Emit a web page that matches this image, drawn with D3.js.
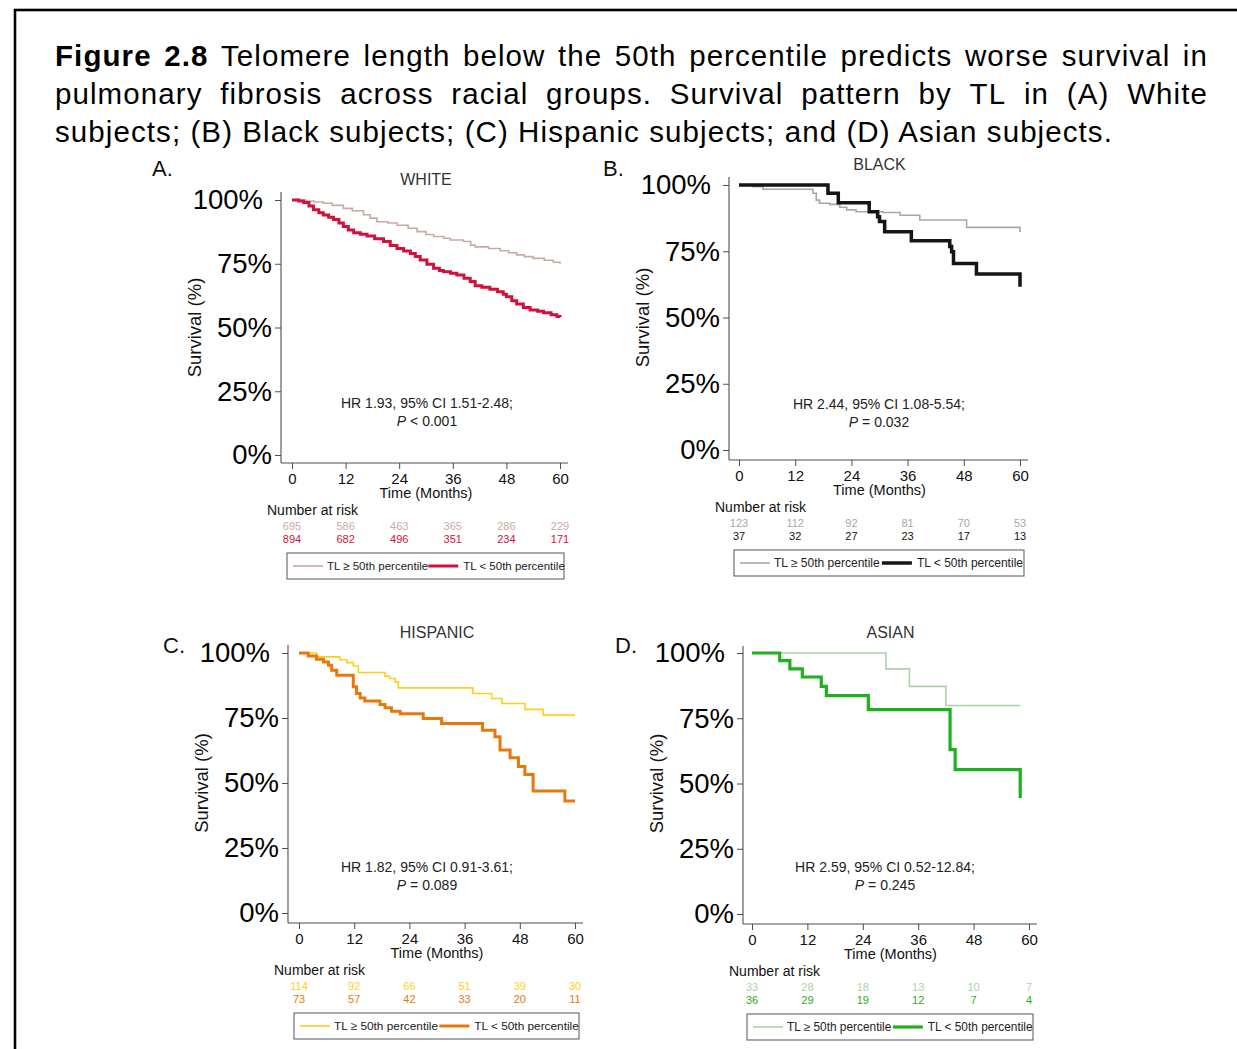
<!DOCTYPE html>
<html>
<head>
<meta charset="utf-8">
<script src="https://cdn.jsdelivr.net/npm/d3@7"></script>
<style>
  body { margin: 0; background: #fff; }
  svg { display: block; }
  text { font-family: "Liberation Sans", Arial, Helvetica, sans-serif; }
</style>
</head>
<body>
<svg id="fig" width="1237" height="1049"></svg>
<script>
// ---- Shared axis ticks and labels ----
const timeTicks = [0, 12, 24, 36, 48, 60];
const survivalTicks = [0, 25, 50, 75, 100];
const groupTitles = ["WHITE", "BLACK", "HISPANIC", "ASIAN"];
const panelLetters = ["A.", "B.", "C.", "D."];
const legendLabels = ["TL \u2265 50th percentile", "TL < 50th percentile"];
const hrText = [
  "HR 1.93, 95% CI 1.51-2.48;",
  "HR 2.44, 95% CI 1.08-5.54;",
  "HR 1.82, 95% CI 0.91-3.61;",
  "HR 2.59, 95% CI 0.52-12.84;"
];
const pText = ["< 0.001", "= 0.032", "= 0.089", "= 0.245"];

const captionLines = [
  "Figure 2.8 Telomere length below the 50th percentile predicts worse survival in",
  "pulmonary fibrosis across racial groups. Survival pattern by TL in (A) White",
  "subjects; (B) Black subjects; (C) Hispanic subjects; and (D) Asian subjects."
];

// ---- Kaplan-Meier survival estimates: [month, survival %] ----
const whiteHigh = [[0,100],[3,99.6],[5,99.2],[7,98.7],[9,97.9],[11.5,96.7],[13.5,95.8],[16,94.2],[17.5,92.9],[19,91.5],[21.5,91.0],[23.5,90.1],[26,88.9],[28,87.6],[30,86.5],[31.7,85.7],[34,85.0],[35.4,84.3],[38.4,83.7],[40,82.3],[41,81.6],[44,81.0],[46.6,80.1],[48.5,79.3],[50.3,78.5],[52,77.8],[54,77.1],[56.5,76.4],[58.5,75.6],[60,75.0]];
const whiteLow = [[0,100],[1.5,99.6],[2.6,99.0],[3.8,97.6],[4.8,96.2],[6,95.0],[7,94.1],[8.2,93.2],[9.3,92.4],[10.5,91.0],[11.5,89.6],[12.6,88.2],[13.8,87.2],[15.3,86.6],[16.8,85.9],[18.5,84.8],[20.5,83.7],[22,82.2],[23.5,81.0],[25,80.0],[26.5,79.0],[27.6,77.8],[28.7,76.5],[30.2,74.8],[31.7,73.2],[33,72.4],[33.9,71.9],[35.5,71.3],[36.9,70.6],[38.5,69.3],[39.9,68.0],[41,66.4],[42.5,65.8],[44.3,65.0],[46,64.0],[47.3,63.0],[48,62.1],[49.2,60.5],[50.3,59.2],[51.8,57.8],[53.3,56.9],[55,56.4],[56.3,55.8],[58,55.0],[59.3,54.3],[60,54.0]];

const blackHigh = [[0,100],[3,99.4],[5.1,98.4],[15.8,96.9],[16.5,94.3],[17.2,93.1],[19.4,92.7],[21.5,91.6],[23,90.6],[25,89.9],[30.8,89.6],[34.4,88.6],[38.6,86.8],[48.6,84.0],[60,82.3]];
const blackLow = [[0,100],[19,96.9],[21.2,93.3],[27.8,89.9],[29.6,88.0],[30,86.2],[31.1,82.4],[36.8,79.0],[45,76.8],[45.4,74.8],[45.8,70.4],[50.7,66.4],[60,61.6]];

const hispanicHigh = [[0,100],[3.8,98.5],[8.9,97.4],[10.4,96.3],[11.8,95.0],[12.9,92.5],[18.7,91.0],[19.8,90.2],[20.9,88.9],[21.6,86.6],[37.8,84.4],[41.9,82.5],[44.1,80.6],[49.1,78.3],[53.1,76.1],[60,76.1]];
const hispanicLow = [[0,100],[2,98.8],[3.8,97.6],[5.3,96.5],[6.4,95.3],[7.1,93.4],[8.2,91.4],[11.8,87.0],[12.5,84.4],[13.3,82.7],[14.3,81.5],[17.6,80.2],[18.7,78.9],[20.1,77.6],[22,76.6],[27,74.8],[31,72.9],[39.9,70.3],[42.6,67.8],[43.7,62.7],[45.9,59.7],[47.7,56.3],[49.1,53.3],[50.9,46.9],[57.8,43.1],[60,43.1]];

const asianHigh = [[0,100],[29,93.9],[34.1,87.2],[42,79.9],[58.1,79.9]];
const asianLow = [[0,100],[6,97.1],[8.2,93.9],[10.9,90.8],[15,87.2],[16.1,83.7],[25.2,78.3],[42.9,63.0],[44,55.3],[58.1,44.4]];

// ---- Numbers at risk at each time tick ----
const whiteRiskHigh = [695, 586, 463, 365, 286, 229];
const whiteRiskLow = [894, 682, 496, 351, 234, 171];
const blackRiskHigh = [123, 112, 92, 81, 70, 53];
const blackRiskLow = [37, 32, 27, 23, 17, 13];
const hispanicRiskHigh = [114, 92, 66, 51, 39, 30];
const hispanicRiskLow = [73, 57, 42, 33, 20, 11];
const asianRiskHigh = [33, 28, 18, 13, 10, 7];
const asianRiskLow = [36, 29, 19, 12, 7, 4];

// ---- Panel geometry and styling ----
const panels = [
  { high: whiteHigh, low: whiteLow, riskHigh: whiteRiskHigh, riskLow: whiteRiskLow,
    axisX: 281, x0: 292, x60: 560, y0: 455, y100: 200, axisTop: 192, axisBottom: 463, axisRight: 568,
    letter: [152, 176], hr: [427, 408],
    colHigh: "#c9a9a4", colLow: "#d2103c", wHigh: 1.6, wLow: 3 },
  { high: blackHigh, low: blackLow, riskHigh: blackRiskHigh, riskLow: blackRiskLow,
    axisX: 729, x0: 739, x60: 1020, y0: 450, y100: 185, axisTop: 177, axisBottom: 460, axisRight: 1028,
    letter: [603, 176], hr: [879, 409],
    colHigh: "#a7a7a7", colLow: "#151515", wHigh: 1.6, wLow: 3.5 },
  { high: hispanicHigh, low: hispanicLow, riskHigh: hispanicRiskHigh, riskLow: hispanicRiskLow,
    axisX: 288, x0: 299, x60: 575, y0: 913, y100: 653, axisTop: 645, axisBottom: 923, axisRight: 583,
    letter: [163, 653], hr: [427, 872],
    colHigh: "#ffcf1a", colLow: "#e8780c", wHigh: 1.6, wLow: 3 },
  { high: asianHigh, low: asianLow, riskHigh: asianRiskHigh, riskLow: asianRiskLow,
    axisX: 743, x0: 752, x60: 1029, y0: 914, y100: 653, axisTop: 646, axisBottom: 924, axisRight: 1037,
    letter: [615, 653], hr: [885, 872],
    colHigh: "#a9d3a9", colLow: "#1fb01f", wHigh: 1.6, wLow: 3.2 }
];

const svg = d3.select("#fig");

// Outer frame (runs off the right and bottom edges)
svg.append("rect")
  .attr("x", 15).attr("y", 10)
  .attr("width", 1300).attr("height", 1100)
  .attr("fill", "none").attr("stroke", "#000").attr("stroke-width", 2.6);

// ---- Caption: justified paragraph ----
(function drawCaption() {
  const left = 55, right = 1208, lastLineEnd = 1113;
  const baselines = [66, 104, 142];
  const fs = 29.5;
  const g = svg.append("g").attr("font-size", fs).attr("fill", "#000");

  // Letter spacing chosen so the last (unjustified) line spans its natural width
  const probe = g.append("text").text(captionLines[2]);
  const natural = probe.node().getComputedTextLength();
  probe.remove();
  const ls = Math.max(0, (lastLineEnd - left - natural) / captionLines[2].length);
  g.attr("letter-spacing", ls);

  captionLines.forEach((line, li) => {
    if (li === captionLines.length - 1) {
      g.append("text").attr("x", left).attr("y", baselines[li]).text(line);
      return;
    }
    const words = line.split(" ");
    const nodes = words.map((w, wi) => {
      const bold = li === 0 && wi < 2;
      return g.append("text")
        .attr("y", baselines[li])
        .attr("font-weight", bold ? "bold" : "normal")
        .text(w);
    });
    const widths = nodes.map(n => n.node().getComputedTextLength());
    const sum = d3.sum(widths);
    const gap = (right - left - sum) / (words.length - 1);
    let x = left;
    nodes.forEach((n, i) => { n.attr("x", x); x += widths[i] + gap; });
  });
})();

// ---- Survival panels ----
panels.forEach((p, i) => {
  const g = svg.append("g");
  const x = d3.scaleLinear().domain([0, 60]).range([p.x0, p.x60]);
  const y = d3.scaleLinear().domain([0, 100]).range([p.y0, p.y100]);
  const axisCol = "#4d4d4d";

  // Axis lines
  g.append("line").attr("x1", p.axisX).attr("x2", p.axisX)
    .attr("y1", p.axisTop).attr("y2", p.axisBottom)
    .attr("stroke", axisCol).attr("stroke-width", 1.1);
  g.append("line").attr("x1", p.axisX).attr("x2", p.axisRight)
    .attr("y1", p.axisBottom).attr("y2", p.axisBottom)
    .attr("stroke", axisCol).attr("stroke-width", 1.1);

  // Y axis ticks and percentage labels
  const yAxis = g.append("g").attr("transform", `translate(${p.axisX},0)`)
    .call(d3.axisLeft(y).tickValues(survivalTicks).tickSize(6).tickSizeOuter(0).tickPadding(3)
      .tickFormat(d => d + "%"));
  yAxis.select(".domain").remove();
  yAxis.selectAll(".tick line").attr("stroke", axisCol);
  yAxis.selectAll(".tick text")
    .attr("font-size", 27.5).attr("fill", "#000")
    .attr("font-family", "'Liberation Sans', Arial, sans-serif")
    .attr("dx", d => d === 100 ? -9 : 0);

  // X axis ticks and month labels
  const xAxis = g.append("g").attr("transform", `translate(0,${p.axisBottom})`)
    .call(d3.axisBottom(x).tickValues(timeTicks).tickSize(6).tickSizeOuter(0).tickPadding(4));
  xAxis.select(".domain").remove();
  xAxis.selectAll(".tick line").attr("stroke", axisCol);
  xAxis.selectAll(".tick text")
    .attr("font-size", 15).attr("fill", "#111")
    .attr("font-family", "'Liberation Sans', Arial, sans-serif");

  const cx = (p.x0 + p.x60) / 2;

  // Axis titles
  g.append("text").attr("x", cx).attr("y", p.axisBottom + 35)
    .attr("text-anchor", "middle").attr("font-size", 14.5).attr("fill", "#111")
    .text("Time (Months)");
  g.append("text")
    .attr("transform", `translate(${p.axisX - 87},${(p.y0 + p.y100) / 2}) rotate(-90)`)
    .attr("text-anchor", "middle").attr("dominant-baseline", "central")
    .attr("font-size", 18.5).attr("fill", "#111")
    .text("Survival (%)");

  // Group title and panel letter
  g.append("text").attr("x", cx).attr("y", p.y100 - 15)
    .attr("text-anchor", "middle").attr("font-size", 16).attr("fill", "#333")
    .text(groupTitles[i]);
  g.append("text").attr("x", p.letter[0]).attr("y", p.letter[1])
    .attr("font-size", 22).attr("fill", "#111")
    .text(panelLetters[i]);

  // Step curves
  const line = d3.line().x(d => x(d[0])).y(d => y(d[1])).curve(d3.curveStepAfter);
  g.append("path").datum(p.high).attr("d", line)
    .attr("fill", "none").attr("stroke", p.colHigh).attr("stroke-width", p.wHigh);
  g.append("path").datum(p.low).attr("d", line)
    .attr("fill", "none").attr("stroke", p.colLow).attr("stroke-width", p.wLow);

  // Hazard ratio annotation
  g.append("text").attr("x", p.hr[0]).attr("y", p.hr[1])
    .attr("text-anchor", "middle").attr("font-size", 14).attr("fill", "#222")
    .text(hrText[i]);
  const pt = g.append("text").attr("x", p.hr[0]).attr("y", p.hr[1] + 18)
    .attr("text-anchor", "middle").attr("font-size", 14).attr("fill", "#222");
  pt.append("tspan").attr("font-style", "italic").text("P");
  pt.append("tspan").text(" " + pText[i]);

  // Numbers at risk
  g.append("text").attr("x", p.axisX - 14).attr("y", p.axisBottom + 52)
    .attr("font-size", 14).attr("fill", "#111")
    .text("Number at risk");
  g.selectAll(".riskHigh").data(p.riskHigh).join("text")
    .attr("x", (d, k) => x(timeTicks[k])).attr("y", p.axisBottom + 67)
    .attr("text-anchor", "middle").attr("font-size", 11).attr("fill", p.colHigh)
    .text(d => d);
  g.selectAll(".riskLow").data(p.riskLow).join("text")
    .attr("x", (d, k) => x(timeTicks[k])).attr("y", p.axisBottom + 80)
    .attr("text-anchor", "middle").attr("font-size", 11).attr("fill", p.colLow)
    .text(d => d);

  // Legend
  const bx = p.x0 - 5, bw = p.x60 + 4 - bx, by = p.axisBottom + 90, bh = 26;
  const lfs = 11.5 * bw / 277;
  g.append("rect").attr("x", bx).attr("y", by).attr("width", bw).attr("height", bh)
    .attr("fill", "#fff").attr("stroke", "#555").attr("stroke-width", 1);
  const ly = by + bh / 2;
  const l2 = bx + 0.51 * bw;
  g.append("line").attr("x1", bx + 6).attr("x2", bx + 36).attr("y1", ly).attr("y2", ly)
    .attr("stroke", p.colHigh).attr("stroke-width", p.wHigh);
  g.append("text").attr("x", bx + 40).attr("y", ly + 4)
    .attr("font-size", lfs).attr("fill", "#222").text(legendLabels[0]);
  g.append("line").attr("x1", l2).attr("x2", l2 + 30).attr("y1", ly).attr("y2", ly)
    .attr("stroke", p.colLow).attr("stroke-width", p.wLow);
  g.append("text").attr("x", l2 + 35).attr("y", ly + 4)
    .attr("font-size", lfs).attr("fill", "#222").text(legendLabels[1]);
});
</script>
</body>
</html>
